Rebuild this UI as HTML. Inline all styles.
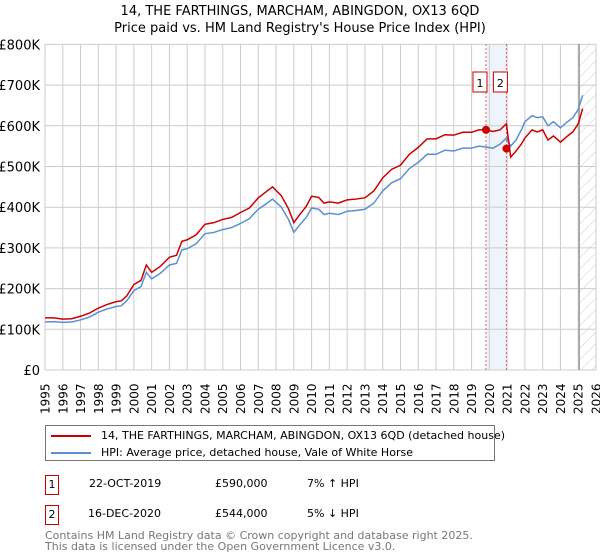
<!DOCTYPE html>
<html><head><meta charset="utf-8"><style>
body{margin:0;width:600px;height:560px;background:#fff;font-family:"DejaVu Sans","Liberation Sans",sans-serif;overflow:hidden;position:relative}
.t{position:absolute;font-size:12px;color:#000;white-space:nowrap}
</style></head><body>
<div class="t" style="left:0;width:600px;text-align:center;top:3px;font-size:13px;line-height:17px">14, THE FARTHINGS, MARCHAM, ABINGDON, OX13 6QD<br>Price paid vs. HM Land Registry's House Price Index (HPI)</div>
<svg id="c" width="600" height="420" style="position:absolute;left:0;top:0"></svg>
<div style="position:absolute;left:45px;top:425px;width:450px;height:36px;border:1px solid #777;box-sizing:border-box;white-space:nowrap">
 <div style="position:absolute;left:5px;top:3px;font-size:11px;white-space:nowrap"><span style="display:inline-block;width:40px;height:2px;background:#c00;vertical-align:middle;margin-right:10px"></span>14, THE FARTHINGS, MARCHAM, ABINGDON, OX13 6QD (detached house)</div>
 <div style="position:absolute;left:5px;top:20px;font-size:11px;white-space:nowrap"><span style="display:inline-block;width:40px;height:2px;background:#5b8fd4;vertical-align:middle;margin-right:10px"></span>HPI: Average price, detached house, Vale of White Horse</div>
</div>
<div>
 <div class="t" style="left:45px;top:475px;width:14px;height:20px;border:1px solid #c00;box-sizing:border-box;text-align:center;line-height:18px;font-size:11px">1</div>
 <div class="t" style="left:89px;top:477px;font-size:11px">22-OCT-2019</div>
 <div class="t" style="left:215px;top:477px;font-size:11px">£590,000</div>
 <div class="t" style="left:307px;top:477px;font-size:11px">7% ↑ HPI</div>
</div>
<div>
 <div class="t" style="left:45px;top:505px;width:14px;height:20px;border:1px solid #c00;box-sizing:border-box;text-align:center;line-height:18px;font-size:11px">2</div>
 <div class="t" style="left:88px;top:507px;font-size:11px">16-DEC-2020</div>
 <div class="t" style="left:215px;top:507px;font-size:11px">£544,000</div>
 <div class="t" style="left:307px;top:507px;font-size:11px">5% ↓ HPI</div>
</div>
<div class="t" style="left:45px;top:530px;font-size:11px;line-height:11px;color:#777">Contains HM Land Registry data © Crown copyright and database right 2025.<br>This data is licensed under the Open Government Licence v3.0.</div>
<script>
const years=[1995,1995.5,1996,1996.5,1997,1997.5,1998,1998.5,1999,1999.3,1999.6,2000,2000.4,2000.7,2001,2001.5,2002,2002.4,2002.7,2003,2003.5,2004,2004.5,2005,2005.5,2006,2006.5,2007,2007.5,2007.8,2008.3,2008.7,2009,2009.3,2009.7,2010,2010.4,2010.7,2011,2011.5,2012,2012.5,2013,2013.5,2014,2014.5,2015,2015.5,2016,2016.5,2017,2017.5,2018,2018.5,2019,2019.4,2019.81,2020.2,2020.6,2020.96,2021.2,2021.5,2021.8,2022,2022.4,2022.7,2023,2023.3,2023.6,2024,2024.4,2024.7,2025,2025.25];
const hpi=[118,119,117,118,123,130,142,150,156,158,170,195,205,240,224,238,258,262,295,298,310,335,338,345,350,360,372,395,410,420,400,370,338,355,375,398,395,382,385,382,390,392,395,410,440,460,470,495,510,530,530,540,538,545,545,550,548,545,555,570,550,565,590,610,625,620,622,600,610,595,610,620,640,675];
const price=[128,128,125,126,132,140,152,161,168,170,182,210,220,258,240,255,277,282,316,320,332,358,362,370,375,387,398,423,440,450,428,396,362,380,402,427,424,410,413,410,418,420,423,440,472,493,503,530,547,568,568,578,577,584,584,590,590,586,590,605,523,538,555,570,590,585,590,565,575,560,575,585,605,642];
const yTicks=[0,100,200,300,400,500,600,700,800];
const xTicks=[1995,1996,1997,1998,1999,2000,2001,2002,2003,2004,2005,2006,2007,2008,2009,2010,2011,2012,2013,2014,2015,2016,2017,2018,2019,2020,2021,2022,2023,2024,2025,2026];
const sales=[2019.81,2020.96];
const salePrices=[590,544];
const X=y=>45+(y-1995)*(551/31), Y=v=>370-v*0.407;
const s=document.getElementById('c'),NS='http://www.w3.org/2000/svg';
function mk(t,a){const e=document.createElementNS(NS,t);for(const k in a)e.setAttribute(k,a[k]);s.appendChild(e);return e;}
let e=mk('rect',{x:X(sales[0]),y:44,width:X(sales[1])-X(sales[0]),height:326,fill:'#eef3fc'});

const d=mk('defs',{});d.innerHTML='<pattern id="h" width="8" height="8" patternUnits="userSpaceOnUse" patternTransform="rotate(45)"><line x1="0" y1="0" x2="0" y2="8" stroke="#ccc" stroke-width="1"/></pattern>';
e=mk('rect',{x:X(2025.05),y:44,width:X(2026)-X(2025.05),height:326,fill:'url(#h)'});

yTicks.forEach(v=>{e=mk('line',{x1:45,x2:X(2026),y1:Y(v*1),y2:Y(v*1),stroke:'#ccc'});

e=mk('text',{x:40,y:Y(v)+5,'text-anchor':'end','font-size':'13'});e.textContent=v?'£'+v+'K':'£0';
});
xTicks.forEach(t=>{e=mk('line',{x1:X(t),x2:X(t),y1:44,y2:370,stroke:'#ccc'});

e=mk('text',{x:0,y:0,'font-size':'12',transform:`translate(${X(t)+4.5},414) rotate(-90)`});e.textContent=t;
});
e=mk('line',{x1:X(2025.05),x2:X(2025.05),y1:44,y2:370,stroke:'#999','stroke-width':1.5});

sales.forEach((t,i)=>{e=mk('line',{x1:X(t),x2:X(t),y1:44,y2:370,stroke:'#e06060','stroke-dasharray':'2,2'});

e=mk('rect',{x:X(t)-13,y:72,width:14,height:20,fill:'#fff',stroke:'#c00'});

e=mk('text',{x:X(t)-6,y:87,'text-anchor':'middle','font-size':'11'});e.textContent=i+1;
});
e=mk('polyline',{points:years.map((y,i)=>X(y)+','+Y(hpi[i])).join(' '),fill:'none',stroke:'#5b8fd4','stroke-width':1.5});

e=mk('polyline',{points:years.map((y,i)=>X(y)+','+Y(price[i])).join(' '),fill:'none',stroke:'#c00','stroke-width':1.5});

sales.forEach((t,i)=>{e=mk('circle',{cx:X(t),cy:Y(salePrices[i]),r:4,fill:'#c00'});
});
</script>
</body></html>
